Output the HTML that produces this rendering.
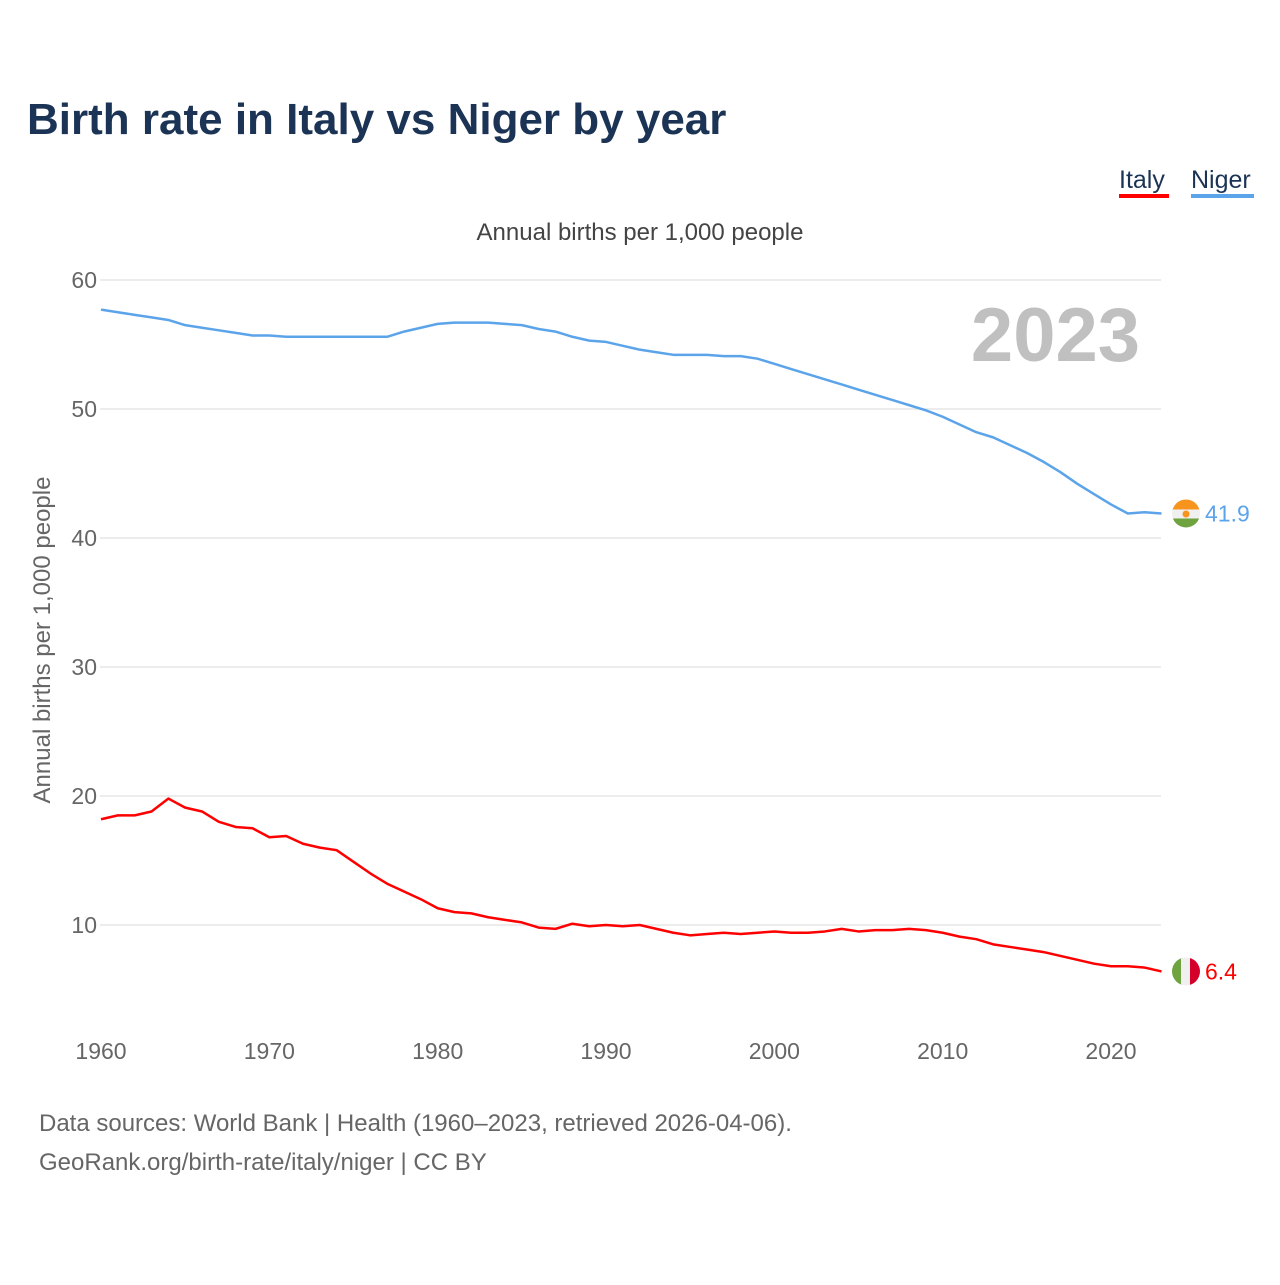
<!DOCTYPE html>
<html><head><meta charset="utf-8"><style>
body{margin:0;background:#fff;font-family:"Liberation Sans",sans-serif;}
svg text{font-family:"Liberation Sans",sans-serif;}
</style></head><body>
<svg id="chart" width="1280" height="1280" xmlns="http://www.w3.org/2000/svg">
<text x="27" y="134" font-size="44" font-weight="bold" fill="#1b3354">Birth rate in Italy vs Niger by year</text>
<g>
<text x="1119" y="188" font-size="25" fill="#1b3354">Italy</text>
<rect x="1119" y="194" width="50" height="4" fill="#ff0000"/></g>
<g>
<text x="1191" y="188" font-size="25" fill="#1b3354">Niger</text>
<rect x="1191" y="194" width="63" height="4" fill="#5ca4ea"/></g>
<text x="640" y="240" font-size="24" fill="#444" text-anchor="middle">Annual births per 1,000 people</text>
<text transform="translate(50,640) rotate(-90)" font-size="24" fill="#666" text-anchor="middle">Annual births per 1,000 people</text>
<text x="1140" y="361" font-size="76" font-weight="bold" fill="#c0c0c0" text-anchor="end">2023</text>
<g id="grid"></g><g id="series"></g>
<text x="39" y="1131" font-size="24" fill="#666">Data sources: World Bank | Health (1960–2023, retrieved 2026-04-06).</text>
<text x="39" y="1170" font-size="24" fill="#666">GeoRank.org/birth-rate/italy/niger | CC BY</text>
</svg>
<script>
const years=[];for(let y=1960;y<=2023;y++)years.push(y);
const italy=[18.2,18.5,18.5,18.8,19.8,19.1,18.8,18.0,17.6,17.5,16.8,16.9,16.3,16.0,15.8,14.9,14.0,13.2,12.6,12.0,11.3,11.0,10.9,10.6,10.4,10.2,9.8,9.7,10.1,9.9,10.0,9.9,10.0,9.7,9.4,9.2,9.3,9.4,9.3,9.4,9.5,9.4,9.4,9.5,9.7,9.5,9.6,9.6,9.7,9.6,9.4,9.1,8.9,8.5,8.3,8.1,7.9,7.6,7.3,7.0,6.8,6.8,6.7,6.4];
const niger=[57.7,57.5,57.3,57.1,56.9,56.5,56.3,56.1,55.9,55.7,55.7,55.6,55.6,55.6,55.6,55.6,55.6,55.6,56.0,56.3,56.6,56.7,56.7,56.7,56.6,56.5,56.2,56.0,55.6,55.3,55.2,54.9,54.6,54.4,54.2,54.2,54.2,54.1,54.1,53.9,53.5,53.1,52.7,52.3,51.9,51.5,51.1,50.7,50.3,49.9,49.4,48.8,48.2,47.8,47.2,46.6,45.9,45.1,44.2,43.4,42.6,41.9,42.0,41.9];
const yTicks=[10,20,30,40,50,60];
const xTicks=[1960,1970,1980,1990,2000,2010,2020];
const NS="http://www.w3.org/2000/svg";
const X=y=>101+(y-1960)*(1010/60);
const Y=v=>1054-v*12.9;
function el(t,a,p){const e=document.createElementNS(NS,t);for(const k in a)e.setAttribute(k,a[k]);p.appendChild(e);return e;}
const grid=document.getElementById('grid'),ser=document.getElementById('series');
yTicks.forEach(v=>{
 const l=el('line',{x1:100,x2:1161,y1:Y(v),y2:Y(v),stroke:'#e6e6e6','stroke-width':1.5},grid);
 
 
 const t=el('text',{x:97,y:Y(v)+8,'font-size':23,fill:'#666','text-anchor':'end'},grid);t.textContent=v;
 
 
});
xTicks.forEach(v=>{
 const t=el('text',{x:X(v),y:1059,'font-size':23,fill:'#666','text-anchor':'middle'},grid);t.textContent=v;
 
 
});
function line(data,color,name){
 const p=el('polyline',{points:data.map((v,i)=>X(years[i])+','+Y(v)).join(' '),fill:'none',stroke:color,'stroke-width':2.5,'stroke-linejoin':'round'},ser);
 
 
 const last=data[data.length-1];
 const t=el('text',{x:1205,y:Y(last)+8,'font-size':23,fill:color},ser);t.textContent=last.toFixed(1);
 
 
 return Y(last);
}
const ny=line(niger,'#5ca4ea','niger-line');
const iy=line(italy,'#ff0000','italy-line');
// flags
const defs=el('defs',{},ser);
const c1=el('clipPath',{id:'cn'},defs);el('circle',{cx:1186,cy:ny,r:14},c1);
const fn=el('g',{'clip-path':'url(#cn)'},ser);


el('rect',{x:1172,y:ny-14,width:28,height:10,fill:'#f7941d'},fn);
el('rect',{x:1172,y:ny-4,width:28,height:9,fill:'#f0f0f0'},fn);
el('rect',{x:1172,y:ny+5,width:28,height:10,fill:'#6ea33f'},fn);
el('circle',{cx:1186,cy:ny+0.5,r:3.5,fill:'#f7941d'},fn);
const c2=el('clipPath',{id:'ci'},defs);el('circle',{cx:1186,cy:iy,r:14},c2);
const fi=el('g',{'clip-path':'url(#ci)'},ser);


el('rect',{x:1172,y:iy-14,width:10,height:28,fill:'#6ea33f'},fi);
el('rect',{x:1181,y:iy-14,width:10,height:28,fill:'#f0f0f0'},fi);
el('rect',{x:1190,y:iy-14,width:10,height:28,fill:'#d4002a'},fi);
</script>
</body></html>
